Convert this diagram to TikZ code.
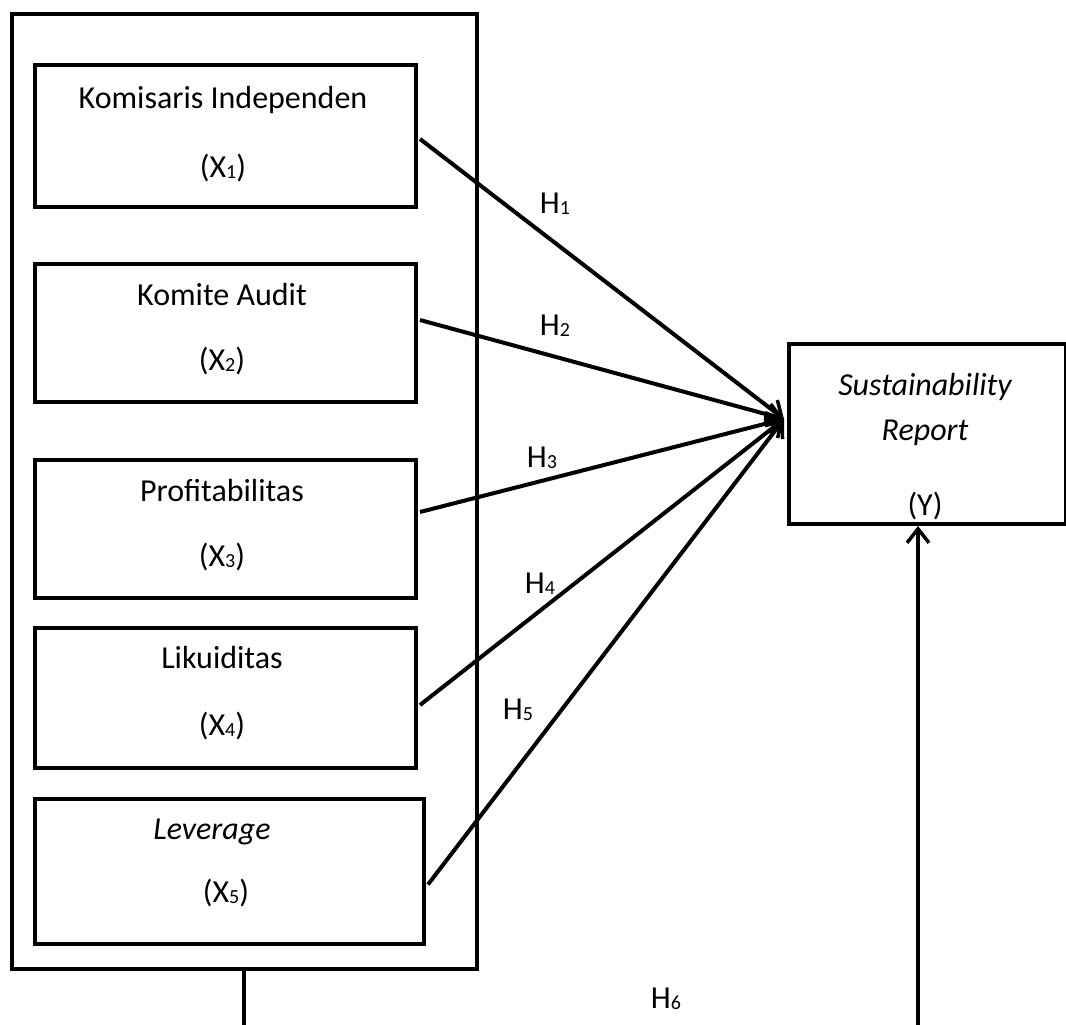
\documentclass[tikz,border=0pt]{standalone}
\usepackage{fontspec}
\setmainfont{Carlito}
\usetikzlibrary{arrows.meta,calc}
\newcommand\sbs[1]{\raisebox{-1.5pt}{\fontsize{20}{20}\selectfont #1}}
\tikzset{
  box/.style={draw,line width=4pt,inner sep=0pt,anchor=north west},
  txt/.style={anchor=base,inner sep=0pt,font=\fontsize{32}{38}\selectfont},
  arr/.style={line width=4pt,-{Straight Barb[length=14pt,width=22pt,line width=3.5pt]}},
  conn/.style={line width=3.5pt}
}
\begin{document}
\begin{tikzpicture}[x=1pt,y=-1pt]
\useasboundingbox (0,0) rectangle (1066,1025);
% outer group
\node[box,minimum width=465pt,minimum height=955pt] (grp) at (10,12) {};
% boxes
\node[box,minimum width=381pt,minimum height=142pt] (x1) at (33,63) {};
\node[box,minimum width=381pt,minimum height=138pt] (x2) at (33,262) {};
\node[box,minimum width=381pt,minimum height=138pt] (x3) at (33,458) {};
\node[box,minimum width=381pt,minimum height=140pt] (x4) at (33,626) {};
\node[box,minimum width=389pt,minimum height=145pt] (x5) at (33,797) {};
\node[box,minimum width=277pt,minimum height=180pt] (yb) at (787,342) {};
% texts
\node[txt] (t1a) at (223,109) {Komisaris Independen};
\node[txt] (t1b) at (223,177) {(X\sbs{1})};
\node[txt] (t2a) at (222,305) {Komite Audit};
\node[txt] (t2b) at (222,370) {(X\sbs{2})};
\node[txt] (t3a) at (222,501) {Profitabilitas};
\node[txt] (t3b) at (222,566) {(X\sbs{3})};
\node[txt] (t4a) at (222,668) {Likuiditas};
\node[txt] (t4b) at (222,735) {(X\sbs{4})};
\node[txt] (t5a) at (212,839) {\itshape Leverage};
\node[txt] (t5b) at (226,902) {(X\sbs{5})};
\node[txt] (tya) at (925,395) {\itshape Sustainability};
\node[txt] (tyb) at (925,440) {\itshape Report};
\node[txt] (tyc) at (925,515) {(Y)};
% hypothesis labels
\node[txt] (h1) at (555,213) {H\sbs{1}};
\node[txt] (h2) at (555,335) {H\sbs{2}};
\node[txt] (h3) at (542,467) {H\sbs{3}};
\node[txt] (h4) at (540,593) {H\sbs{4}};
\node[txt] (h5) at (518,719) {H\sbs{5}};
\node[txt] (h6) at (666,1008) {H\sbs{6}};
% target point and free ends
\coordinate (tgt) at ($(yb.west)+(-3,-15)$);
\coordinate (bl) at (244,1025);
\coordinate (br) at (918,1025);
% arrows
\draw[arr] ($(x1.east)+(2,3)$) -- (tgt);
\draw[arr] ($(x2.east)+(2,-13)$) -- (tgt);
\draw[arr] ($(x3.east)+(2,-17)$) -- (tgt);
\draw[arr] ($(x4.east)+(2,7)$) -- (tgt);
\draw[arr] ($(x5.east)+(2,13)$) -- (tgt);
% H6 connectors
\draw[conn] (grp.south -| bl) -- (bl);
\draw[arr] (br) -- (yb.south -| br);
\end{tikzpicture}
\end{document}
